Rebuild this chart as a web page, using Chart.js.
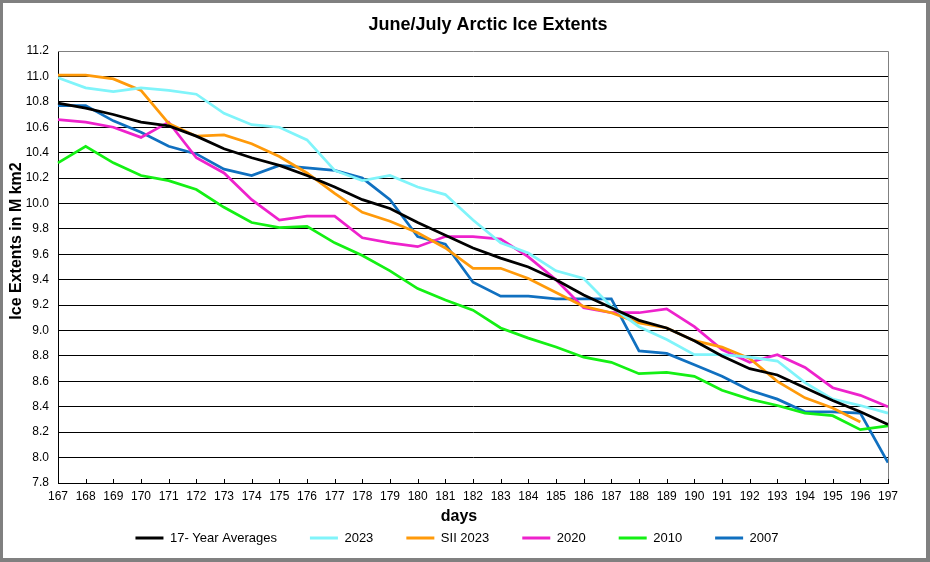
<!DOCTYPE html>
<html>
<head>
<meta charset="utf-8">
<script src="https://cdn.jsdelivr.net/npm/chart.js"></script>
<style>
  html, body { margin: 0; padding: 0; background: #fff; }
  canvas { display: block; }
</style>
</head>
<body>
<canvas id="iceChart" width="930" height="562"></canvas>
<script>
const days = [167, 168, 169, 170, 171, 172, 173, 174, 175, 176, 177, 178, 179, 180, 181, 182,
  183, 184, 185, 186, 187, 188, 189, 190, 191, 192, 193, 194, 195, 196, 197];

const avg17 = [10.79, 10.75, 10.70, 10.64, 10.61, 10.53, 10.43, 10.36, 10.30, 10.22, 10.13, 10.03,
  9.96, 9.85, 9.75, 9.65, 9.57, 9.50, 9.40, 9.28, 9.18, 9.08, 9.02, 8.92, 8.80, 8.70, 8.65, 8.55,
  8.45, 8.36, 8.26];
const ext2023 = [10.99, 10.91, 10.88, 10.91, 10.89, 10.86, 10.71, 10.62, 10.60, 10.50, 10.26, 10.18,
  10.22, 10.13, 10.07, 9.87, 9.69, 9.61, 9.47, 9.41, 9.19, 9.03, 8.93, 8.81, 8.81, 8.79, 8.76, 8.59,
  8.46, 8.41, 8.35];
const sii2023 = [11.01, 11.01, 10.98, 10.89, 10.63, 10.53, 10.54, 10.47, 10.37, 10.24, 10.08, 9.93,
  9.86, 9.77, 9.65, 9.49, 9.49, 9.41, 9.30, 9.19, 9.14, 9.06, 9.02, 8.92, 8.87, 8.78, 8.60, 8.47,
  8.39, 8.28, null];
const ext2020 = [10.66, 10.64, 10.60, 10.52, 10.64, 10.36, 10.24, 10.03, 9.87, 9.90, 9.90, 9.73,
  9.69, 9.66, 9.74, 9.74, 9.72, 9.58, 9.40, 9.18, 9.14, 9.14, 9.17, 9.03, 8.85, 8.75, 8.81, 8.71,
  8.55, 8.49, 8.40];
const ext2010 = [10.32, 10.45, 10.32, 10.22, 10.18, 10.11, 9.97, 9.85, 9.81, 9.82, 9.69, 9.59,
  9.47, 9.33, 9.24, 9.16, 9.02, 8.94, 8.87, 8.79, 8.75, 8.66, 8.67, 8.64, 8.53, 8.46, 8.41, 8.35,
  8.33, 8.22, 8.25];
const ext2007 = [10.77, 10.77, 10.65, 10.56, 10.45, 10.39, 10.27, 10.22, 10.30, 10.28, 10.26, 10.20,
  10.03, 9.74, 9.68, 9.38, 9.27, 9.27, 9.25, 9.25, 9.25, 8.84, 8.82, 8.73, 8.64, 8.53, 8.46, 8.36,
  8.36, 8.35, 7.96];

const seriesNames = ["17- Year Averages", "2023", "SII 2023", "2020", "2010", "2007"];
const yMin = 7.8;
const yMax = 11.2;
const yStep = 0.2;

const sans = "'Liberation Sans', Arial, sans-serif";
const narrow = "'Liberation Sans Narrow', 'Liberation Sans', Arial, sans-serif";

function line(label, data, color) {
  return {
    label: label,
    data: data,
    borderColor: color,
    backgroundColor: color,
    borderWidth: 2.75,
    pointRadius: 0,
    tension: 0,
    fill: false,
  };
}

// white background, grey frame, titles, plot border and inward x ticks
const decorations = {
  id: "decorations",
  afterLayout(chart) {
    // legend text should sit at y = 538
    const lg = chart.legend;
    const dy = 498.5 - lg.top;
    lg.top += dy;
    lg.bottom += dy;
  },
  beforeDraw(chart) {
    const ctx = chart.ctx;
    ctx.save();
    ctx.fillStyle = "#ffffff";
    ctx.fillRect(0, 0, chart.width, chart.height);
    ctx.restore();
  },
  afterDraw(chart) {
    const ctx = chart.ctx;
    const area = chart.chartArea;
    const x = chart.scales.x;
    ctx.save();

    ctx.strokeStyle = "#808080";
    ctx.lineWidth = 1;
    ctx.beginPath();
    ctx.moveTo(area.left, area.top + 0.5);
    ctx.lineTo(area.right + 0.5, area.top + 0.5);
    ctx.lineTo(area.right + 0.5, area.bottom);
    ctx.stroke();

    ctx.strokeStyle = "#000000";
    ctx.beginPath();
    x.ticks.forEach((t, i) => {
      const px = Math.round(x.getPixelForTick(i)) + 0.5;
      ctx.moveTo(px, area.bottom);
      ctx.lineTo(px, area.bottom - 4);
    });
    ctx.stroke();

    ctx.fillStyle = "#000000";
    ctx.textAlign = "center";
    ctx.textBaseline = "middle";
    ctx.font = "bold 18px " + sans;
    ctx.fillText("June/July Arctic Ice Extents", 488, 25);
    ctx.font = "bold 16px " + sans;
    ctx.fillText("days", 459, 517);
    ctx.translate(17, 241);
    ctx.rotate(-Math.PI / 2);
    ctx.fillText("Ice Extents in M km2", 0, 0);
    ctx.setTransform(1, 0, 0, 1, 0, 0);

    ctx.fillStyle = "#808080";
    ctx.fillRect(0, 0, chart.width, 3);
    ctx.fillRect(0, 0, 3, chart.height);
    ctx.fillRect(chart.width - 4, 0, 4, chart.height);
    ctx.fillRect(0, chart.height - 4, chart.width, 4);
    ctx.restore();
  },
};

new Chart(document.getElementById("iceChart"), {
  type: "line",
  data: {
    labels: days,
    datasets: [
      line(seriesNames[0], avg17, "#000000"),
      line(seriesNames[1], ext2023, "#80f4fa"),
      line(seriesNames[2], sii2023, "#ff9a0a"),
      line(seriesNames[3], ext2020, "#ee22cc"),
      line(seriesNames[4], ext2010, "#14f014"),
      line(seriesNames[5], ext2007, "#1070c0"),
    ],
  },
  options: {
    responsive: false,
    animation: false,
    devicePixelRatio: 1,
    layout: {
      padding: { left: 26, right: 42, top: 51, bottom: 5 },
    },
    plugins: {
      title: { display: false },
      tooltip: { enabled: false },
      legend: {
        position: "bottom",
        labels: {
          boxWidth: 28,
          boxHeight: 3,
          padding: 33,
          color: "#000000",
          font: { family: sans, size: 13 },
          generateLabels: (chart) =>
            Chart.defaults.plugins.legend.labels.generateLabels(chart).map((item) => ({
              ...item,
              lineWidth: 0,
              fillStyle: item.strokeStyle,
            })),
        },
      },
    },
    scales: {
      x: {
        type: "category",
        offset: false,
        grid: { display: false, drawTicks: false },
        border: { display: true, color: "#000000", width: 1 },
        ticks: {
          autoSkip: false,
          maxRotation: 0,
          padding: 6,
          color: "#000000",
          font: { family: narrow, size: 12 },
        },
        afterFit: (scale) => {
          scale.height = 18;
        },
      },
      y: {
        min: yMin,
        max: yMax,
        grid: {
          drawTicks: false,
          color: (c) => (c.tick && Math.abs(c.tick.value - yMax) < 1e-6 ? "rgba(0,0,0,0)" : "#000000"),
          lineWidth: 1,
        },
        border: { display: true, color: "#000000", width: 1 },
        ticks: {
          stepSize: yStep,
          padding: 9,
          color: "#000000",
          font: { family: narrow, size: 12 },
          callback: (v) => Number(v).toFixed(1),
        },
        afterFit: (scale) => {
          scale.width = 32;
        },
      },
    },
  },
  plugins: [decorations],
});
</script>
</body>
</html>
